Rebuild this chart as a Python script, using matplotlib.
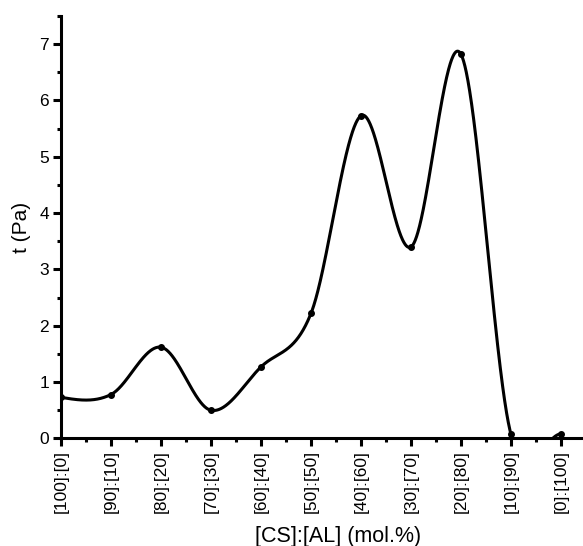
import numpy as np
import matplotlib
matplotlib.use("Agg")
import matplotlib.pyplot as plt
from matplotlib.ticker import MultipleLocator

categories = ["[100]:[0]", "[90]:[10]", "[80]:[20]", "[70]:[30]", "[60]:[40]",
              "[50]:[50]", "[40]:[60]", "[30]:[70]", "[20]:[80]", "[10]:[90]", "[0]:[100]"]
tau = [0.73, 0.78, 1.62, 0.50, 1.27, 2.22, 5.73, 3.40, 6.82, 0.07, 0.08]

plt.rcParams['font.family'] = ['Liberation Sans', 'DejaVu Sans']


def smooth_curve(x, y, npts=1500):
    """Catmull-Rom style Hermite curve through the points (line rendering only)."""
    x = np.asarray(x, float); y = np.asarray(y, float)
    n = len(x)
    t = np.zeros(n)
    t[1:-1] = (y[2:] - y[:-2]) / (x[2:] - x[:-2])
    t[0] = (3 * (y[1] - y[0]) / (x[1] - x[0]) - t[1]) / 2
    t[-1] = (y[-1] - y[-2]) / (x[-1] - x[-2])
    xs = np.linspace(x[0], x[-1], npts)
    idx = np.clip(np.searchsorted(x, xs) - 1, 0, n - 2)
    h = x[idx + 1] - x[idx]
    s = (xs - x[idx]) / h
    h00 = 2 * s**3 - 3 * s**2 + 1
    h10 = s**3 - 2 * s**2 + s
    h01 = -2 * s**3 + 3 * s**2
    h11 = s**3 - s**2
    ys = h00 * y[idx] + h10 * h * t[idx] + h01 * y[idx + 1] + h11 * h * t[idx + 1]
    return xs, ys


xpos = np.arange(len(categories))
xs, ys = smooth_curve(xpos, tau)

fig = plt.figure(figsize=(5.83, 5.46), dpi=100)
ax = fig.add_axes([0.1046, 0.197, 0.8954, 0.7737])
ax.plot(xs, ys, color='black', lw=2.2, solid_capstyle='round')
ax.plot(xpos, tau, 'o', color='black', ms=4)

ax.set_xlim(0, 10.44)
ax.set_ylim(0, 7.5)
ax.set_xticks(xpos)
ax.set_xticklabels(categories, rotation=90, fontsize=12.5)
ax.xaxis.set_minor_locator(MultipleLocator(0.5))
ax.yaxis.set_major_locator(MultipleLocator(1))
ax.yaxis.set_minor_locator(MultipleLocator(0.5))
ax.tick_params(axis='y', labelsize=12.5, pad=3)
ax.tick_params(axis='x', pad=3)
ax.tick_params(which='major', length=5.5, width=2.2, direction='out')
ax.tick_params(which='minor', length=3, width=2.2, direction='out')
for s in ['top', 'right']:
    ax.spines[s].set_visible(False)
for s in ['left', 'bottom']:
    ax.spines[s].set_linewidth(2.2)

ax.set_xlabel("[CS]:[AL] (mol.%)", fontsize=15.5)
ax.xaxis.label.set_va('baseline')
ax.xaxis.set_label_coords(0.531, -0.2446)
ax.set_ylabel("t (Pa)", fontsize=15, labelpad=6)

fig.savefig("out.png", dpi=100)
